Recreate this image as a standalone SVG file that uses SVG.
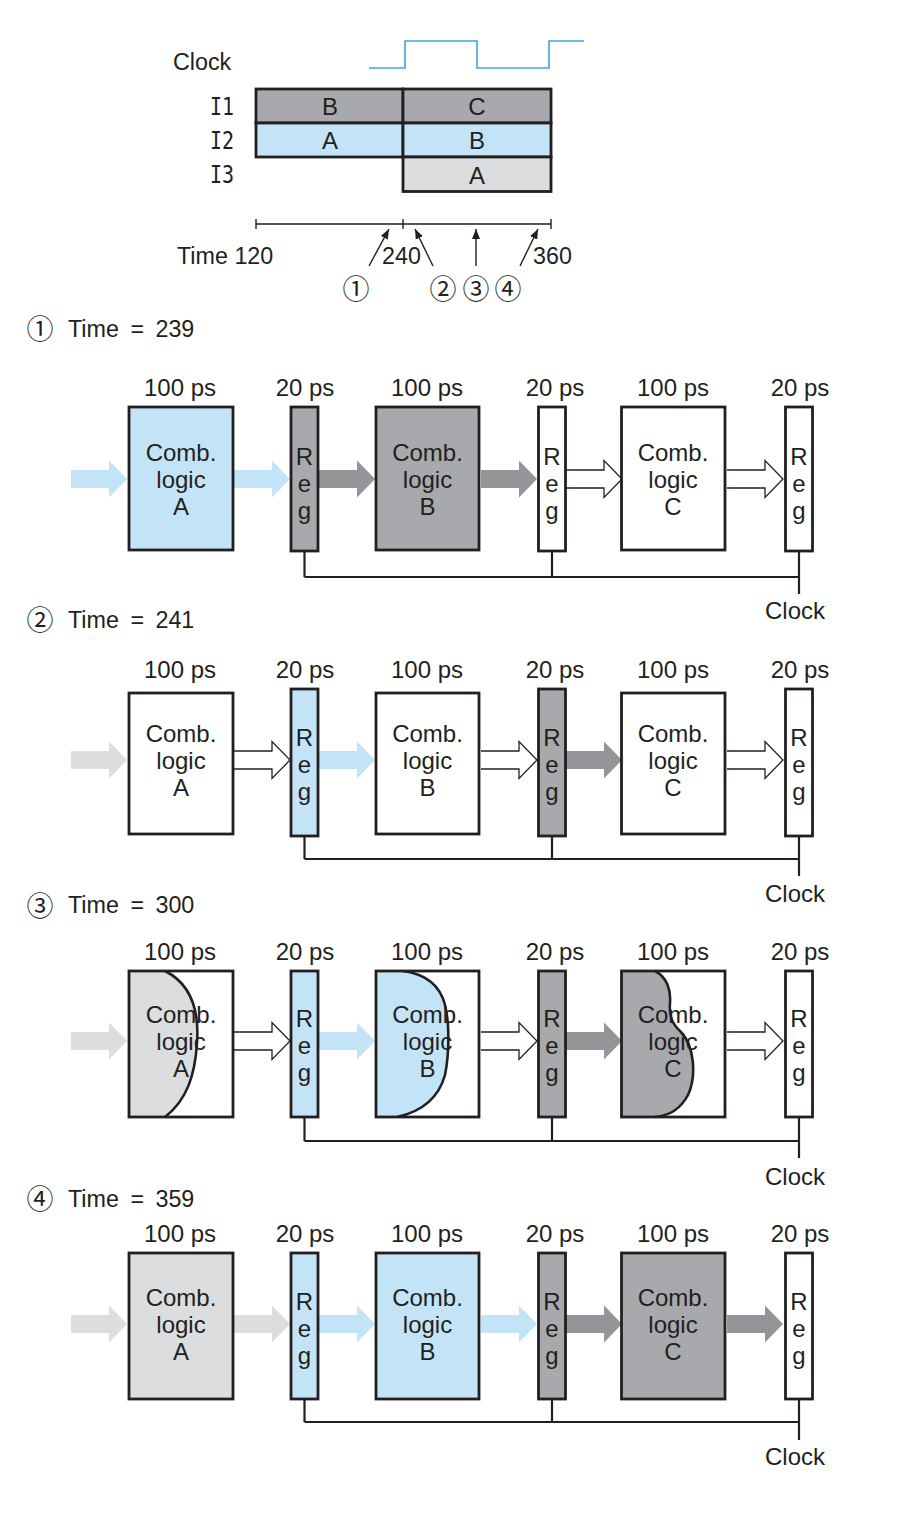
<svg xmlns="http://www.w3.org/2000/svg" xmlns:xlink="http://www.w3.org/1999/xlink" width="910" height="1522" viewBox="0 0 910 1522">
<style>
.t{font-family:"Liberation Sans",Arial,Helvetica,sans-serif;font-size:24px;fill:#231f20;text-anchor:middle}
.ts{font-family:"Liberation Sans",Arial,Helvetica,sans-serif;font-size:23.3px;fill:#231f20}
.cd{font-family:"Noto Sans CJK JP","Noto Sans CJK SC",sans-serif;font-size:27px;fill:#231f20;text-anchor:middle}
.mono{font-family:"DejaVu Sans Mono","Liberation Mono",monospace;font-size:20px;fill:#231f20}
.bx{stroke:#231f20;stroke-width:2.8}
.ol{fill:none;stroke:#231f20;stroke-width:2.8}
.crv{fill:none;stroke:#231f20;stroke-width:2.6}
.w{fill:#ffffff}
.bl{fill:#c3e4f7}
.gr{fill:#a7a9ac}
.lg{fill:#dcddde}
.ab{fill:#c3e4f7}
.ag{fill:#939598}
.al{fill:#dcddde}
.wire{fill:none;stroke:#231f20;stroke-width:2.2}
.thin{fill:none;stroke:#231f20;stroke-width:1.4}
</style>
<defs>
<path id="arw" d="M0,-9 H38 V-18.5 L56,0 L38,18.5 V9 H0 Z"/>
<path id="arwo" d="M0,-9 H38 V-18.5 L56,0 L38,18.5 V9 H0" fill="#ffffff" stroke="#231f20" stroke-width="1.3"/>
<marker id="ah" markerUnits="userSpaceOnUse" viewBox="0 0 10 8" refX="10" refY="4" markerWidth="10" markerHeight="8" orient="auto">
<path d="M0,0 L10,4 L0,8 Z" fill="#231f20"/>
</marker>
</defs>

<!-- ===== Top timing diagram ===== -->
<g id="timing">
<text class="ts" x="173" y="70">Clock</text>
<polyline points="369,68 405,68 405,41 477,41 477,68 549,68 549,41 584,41" fill="none" stroke="#3ea6de" stroke-width="1.6"/>
<text class="mono" transform="translate(210,115) scale(1,1.22)">I1</text>
<text class="mono" transform="translate(210,148.5) scale(1,1.22)">I2</text>
<text class="mono" transform="translate(210,183) scale(1,1.22)">I3</text>
<rect class="bx gr" x="256" y="89" width="147" height="34"/>
<rect class="bx gr" x="403" y="89" width="148" height="34"/>
<rect class="bx bl" x="256" y="123" width="147" height="34"/>
<rect class="bx bl" x="403" y="123" width="148" height="34"/>
<rect class="bx lg" x="403" y="157" width="148" height="34.5"/>
<text class="t" x="330" y="115">B</text>
<text class="t" x="477" y="115">C</text>
<text class="t" x="330" y="149">A</text>
<text class="t" x="477" y="149">B</text>
<text class="t" x="477" y="183.5">A</text>
<path class="thin" d="M256,224 H551 M256,219 V229 M403,219 V229 M551,219 V229"/>
<line class="thin" x1="369" y1="266" x2="389" y2="229" marker-end="url(#ah)"/>
<line class="thin" x1="433" y1="266" x2="415" y2="229" marker-end="url(#ah)"/>
<line class="thin" x1="476" y1="266" x2="476" y2="229" marker-end="url(#ah)"/>
<line class="thin" x1="520" y1="266" x2="538" y2="229" marker-end="url(#ah)"/>
<text class="ts" x="177" y="264">Time 120</text>
<text class="ts" x="382" y="264">240</text>
<text class="ts" x="533" y="264">360</text>
<text class="cd" x="356" y="299">①</text>
<text class="cd" x="443" y="299">②</text>
<text class="cd" x="476" y="299">③</text>
<text class="cd" x="508" y="299">④</text>
</g>

<!-- ===== Panel 1 ===== -->
<g id="p1-label"><text class="cd" x="40" y="339">①</text><text class="ts" x="68" y="337" word-spacing="5">Time = 239</text></g>
<g id="p1-connectors">
<use xlink:href="#arw" href="#arw" x="71" y="479" class="ab"/>
<use xlink:href="#arw" href="#arw" x="234" y="479" class="ab"/>
<use xlink:href="#arw" href="#arw" x="319" y="479" class="ag"/>
<use xlink:href="#arw" href="#arw" x="481" y="479" class="ag"/>
<use xlink:href="#arwo" href="#arwo" x="566" y="479"/>
<use xlink:href="#arwo" href="#arwo" x="727" y="479"/>
<path class="wire" d="M304.5,551 V577 M552,551 V577 M799,551 V594 M304.5,577 H799"/>
<text class="t" x="795" y="619">Clock</text>
</g>
<g id="p1-combA"><text class="t" x="180" y="396">100 ps</text><rect class="bx bl" x="129" y="407" width="104" height="143"/><text class="t" x="181"><tspan x="181" y="461">Comb.</tspan><tspan x="181" y="488">logic</tspan><tspan x="181" y="515">A</tspan></text></g>
<g id="p1-reg1"><text class="t" x="305" y="396">20 ps</text><rect class="bx gr" x="291" y="407" width="27" height="144"/><text class="t"><tspan x="304.5" y="464.5">R</tspan><tspan x="304.5" y="491.5">e</tspan><tspan x="304.5" y="518.5">g</tspan></text></g>
<g id="p1-combB"><text class="t" x="427" y="396">100 ps</text><rect class="bx gr" x="376" y="407" width="103" height="143"/><text class="t"><tspan x="427.5" y="461">Comb.</tspan><tspan x="427.5" y="488">logic</tspan><tspan x="427.5" y="515">B</tspan></text></g>
<g id="p1-reg2"><text class="t" x="555" y="396">20 ps</text><rect class="bx w" x="538.5" y="407" width="27" height="144"/><text class="t"><tspan x="552" y="464.5">R</tspan><tspan x="552" y="491.5">e</tspan><tspan x="552" y="518.5">g</tspan></text></g>
<g id="p1-combC"><text class="t" x="673" y="396">100 ps</text><rect class="bx w" x="621.5" y="407" width="103.5" height="143"/><text class="t"><tspan x="673" y="461">Comb.</tspan><tspan x="673" y="488">logic</tspan><tspan x="673" y="515">C</tspan></text></g>
<g id="p1-reg3"><text class="t" x="800" y="396">20 ps</text><rect class="bx w" x="785.5" y="407" width="27" height="144"/><text class="t"><tspan x="799" y="464.5">R</tspan><tspan x="799" y="491.5">e</tspan><tspan x="799" y="518.5">g</tspan></text></g>

<!-- ===== Panel 2 ===== -->
<g id="p2-label"><text class="cd" x="40" y="630">②</text><text class="ts" x="68" y="628" word-spacing="5">Time = 241</text></g>
<g id="p2-connectors">
<use xlink:href="#arw" href="#arw" x="71" y="760" class="al"/>
<use xlink:href="#arwo" href="#arwo" x="234" y="760"/>
<use xlink:href="#arw" href="#arw" x="319" y="760" class="ab"/>
<use xlink:href="#arwo" href="#arwo" x="481" y="760"/>
<use xlink:href="#arw" href="#arw" x="566" y="760" class="ag"/>
<use xlink:href="#arwo" href="#arwo" x="727" y="760"/>
<path class="wire" d="M304.5,836 V859 M552,836 V859 M799,836 V876 M304.5,859 H799"/>
<text class="t" x="795" y="902">Clock</text>
</g>
<g id="p2-combA"><text class="t" x="180" y="678">100 ps</text><rect class="bx w" x="129" y="693" width="104" height="141"/><text class="t"><tspan x="181" y="742">Comb.</tspan><tspan x="181" y="769">logic</tspan><tspan x="181" y="796">A</tspan></text></g>
<g id="p2-reg1"><text class="t" x="305" y="678">20 ps</text><rect class="bx bl" x="291" y="689" width="27" height="147"/><text class="t"><tspan x="304.5" y="745.5">R</tspan><tspan x="304.5" y="772.5">e</tspan><tspan x="304.5" y="799.5">g</tspan></text></g>
<g id="p2-combB"><text class="t" x="427" y="678">100 ps</text><rect class="bx w" x="376" y="693" width="103" height="141"/><text class="t"><tspan x="427.5" y="742">Comb.</tspan><tspan x="427.5" y="769">logic</tspan><tspan x="427.5" y="796">B</tspan></text></g>
<g id="p2-reg2"><text class="t" x="555" y="678">20 ps</text><rect class="bx gr" x="538.5" y="689" width="27" height="147"/><text class="t"><tspan x="552" y="745.5">R</tspan><tspan x="552" y="772.5">e</tspan><tspan x="552" y="799.5">g</tspan></text></g>
<g id="p2-combC"><text class="t" x="673" y="678">100 ps</text><rect class="bx w" x="621.5" y="693" width="103.5" height="141"/><text class="t"><tspan x="673" y="742">Comb.</tspan><tspan x="673" y="769">logic</tspan><tspan x="673" y="796">C</tspan></text></g>
<g id="p2-reg3"><text class="t" x="800" y="678">20 ps</text><rect class="bx w" x="785.5" y="689" width="27" height="147"/><text class="t"><tspan x="799" y="745.5">R</tspan><tspan x="799" y="772.5">e</tspan><tspan x="799" y="799.5">g</tspan></text></g>

<!-- ===== Panel 3 ===== -->
<g id="p3-label"><text class="cd" x="40" y="916">③</text><text class="ts" x="68" y="913" word-spacing="5">Time = 300</text></g>
<g id="p3-connectors">
<use xlink:href="#arw" href="#arw" x="71" y="1041" class="al"/>
<use xlink:href="#arwo" href="#arwo" x="234" y="1041"/>
<use xlink:href="#arw" href="#arw" x="319" y="1041" class="ab"/>
<use xlink:href="#arwo" href="#arwo" x="481" y="1041"/>
<use xlink:href="#arw" href="#arw" x="566" y="1041" class="ag"/>
<use xlink:href="#arwo" href="#arwo" x="727" y="1041"/>
<path class="wire" d="M304.5,1117 V1141 M552,1117 V1141 M799,1117 V1158 M304.5,1141 H799"/>
<text class="t" x="795" y="1185">Clock</text>
</g>
<g id="p3-combA"><text class="t" x="180" y="960">100 ps</text>
<rect class="w" x="129" y="971" width="104" height="146"/>
<path class="lg" d="M129,971 H165 C193,985 199,1015 197,1043 C195,1075 187,1100 165,1117 H129 Z"/>
<path class="crv" d="M165,971 C193,985 199,1015 197,1043 C195,1075 187,1100 165,1117"/>
<rect class="ol" x="129" y="971" width="104" height="146"/>
<text class="t"><tspan x="181" y="1023">Comb.</tspan><tspan x="181" y="1050">logic</tspan><tspan x="181" y="1077">A</tspan></text></g>
<g id="p3-reg1"><text class="t" x="305" y="960">20 ps</text><rect class="bx bl" x="291" y="971" width="27" height="146"/><text class="t"><tspan x="304.5" y="1026.5">R</tspan><tspan x="304.5" y="1053.5">e</tspan><tspan x="304.5" y="1080.5">g</tspan></text></g>
<g id="p3-combB"><text class="t" x="427" y="960">100 ps</text>
<rect class="w" x="376" y="971" width="103" height="146"/>
<path class="bl" d="M376,971 H403 C425,974 440,985 445,1005 C450,1025 449,1055 445,1075 C438,1100 420,1112 397,1117 H376 Z"/>
<path class="crv" d="M403,971 C425,974 440,985 445,1005 C450,1025 449,1055 445,1075 C438,1100 420,1112 397,1117"/>
<rect class="ol" x="376" y="971" width="103" height="146"/>
<text class="t"><tspan x="427.5" y="1023">Comb.</tspan><tspan x="427.5" y="1050">logic</tspan><tspan x="427.5" y="1077">B</tspan></text></g>
<g id="p3-reg2"><text class="t" x="555" y="960">20 ps</text><rect class="bx gr" x="538.5" y="971" width="27" height="146"/><text class="t"><tspan x="552" y="1026.5">R</tspan><tspan x="552" y="1053.5">e</tspan><tspan x="552" y="1080.5">g</tspan></text></g>
<g id="p3-combC"><text class="t" x="673" y="960">100 ps</text>
<rect class="w" x="621.5" y="971" width="103.5" height="146"/>
<path class="gr" d="M621.5,971 H655 C667,977 671,990 670,1003 C669,1016 672,1024 681,1032 C694,1046 697,1075 688,1095 C680,1110 668,1116 655,1117 H621.5 Z"/>
<path class="crv" d="M655,971 C667,977 671,990 670,1003 C669,1016 672,1024 681,1032 C694,1046 697,1075 688,1095 C680,1110 668,1116 655,1117"/>
<rect class="ol" x="621.5" y="971" width="103.5" height="146"/>
<text class="t"><tspan x="673" y="1023">Comb.</tspan><tspan x="673" y="1050">logic</tspan><tspan x="673" y="1077">C</tspan></text></g>
<g id="p3-reg3"><text class="t" x="800" y="960">20 ps</text><rect class="bx w" x="785.5" y="971" width="27" height="146"/><text class="t"><tspan x="799" y="1026.5">R</tspan><tspan x="799" y="1053.5">e</tspan><tspan x="799" y="1080.5">g</tspan></text></g>

<!-- ===== Panel 4 ===== -->
<g id="p4-label"><text class="cd" x="40" y="1209">④</text><text class="ts" x="68" y="1207" word-spacing="5">Time = 359</text></g>
<g id="p4-connectors">
<use xlink:href="#arw" href="#arw" x="71" y="1324" class="al"/>
<use xlink:href="#arw" href="#arw" x="234" y="1324" class="al"/>
<use xlink:href="#arw" href="#arw" x="319" y="1324" class="ab"/>
<use xlink:href="#arw" href="#arw" x="481" y="1324" class="ab"/>
<use xlink:href="#arw" href="#arw" x="566" y="1324" class="ag"/>
<use xlink:href="#arw" href="#arw" x="727" y="1324" class="ag"/>
<path class="wire" d="M304.5,1399 V1422 M552,1399 V1422 M799,1399 V1440 M304.5,1422 H799"/>
<text class="t" x="795" y="1465">Clock</text>
</g>
<g id="p4-combA"><text class="t" x="180" y="1242">100 ps</text><rect class="bx lg" x="129" y="1253" width="104" height="146"/><text class="t"><tspan x="181" y="1306">Comb.</tspan><tspan x="181" y="1333">logic</tspan><tspan x="181" y="1360">A</tspan></text></g>
<g id="p4-reg1"><text class="t" x="305" y="1242">20 ps</text><rect class="bx bl" x="291" y="1253" width="27" height="146"/><text class="t"><tspan x="304.5" y="1309.5">R</tspan><tspan x="304.5" y="1336.5">e</tspan><tspan x="304.5" y="1363.5">g</tspan></text></g>
<g id="p4-combB"><text class="t" x="427" y="1242">100 ps</text><rect class="bx bl" x="376" y="1253" width="103" height="146"/><text class="t"><tspan x="427.5" y="1306">Comb.</tspan><tspan x="427.5" y="1333">logic</tspan><tspan x="427.5" y="1360">B</tspan></text></g>
<g id="p4-reg2"><text class="t" x="555" y="1242">20 ps</text><rect class="bx gr" x="538.5" y="1253" width="27" height="146"/><text class="t"><tspan x="552" y="1309.5">R</tspan><tspan x="552" y="1336.5">e</tspan><tspan x="552" y="1363.5">g</tspan></text></g>
<g id="p4-combC"><text class="t" x="673" y="1242">100 ps</text><rect class="bx gr" x="621.5" y="1253" width="103.5" height="146"/><text class="t"><tspan x="673" y="1306">Comb.</tspan><tspan x="673" y="1333">logic</tspan><tspan x="673" y="1360">C</tspan></text></g>
<g id="p4-reg3"><text class="t" x="800" y="1242">20 ps</text><rect class="bx w" x="785.5" y="1253" width="27" height="146"/><text class="t"><tspan x="799" y="1309.5">R</tspan><tspan x="799" y="1336.5">e</tspan><tspan x="799" y="1363.5">g</tspan></text></g>
</svg>
